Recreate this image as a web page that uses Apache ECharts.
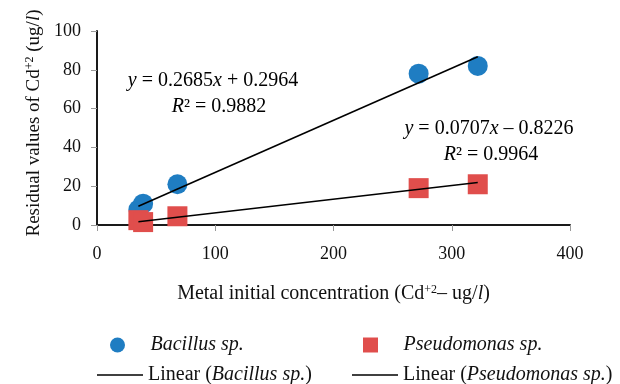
<!DOCTYPE html>
<html><head><meta charset="utf-8">
<script src="https://cdn.jsdelivr.net/npm/echarts@6/dist/echarts.min.js"></script>
<style>html,body{margin:0;padding:0;background:#fff}#c{width:620px;height:384px}</style>
</head><body><div id="c"></div>
<script>
// Data
var concentrations = [35, 39, 68, 272, 322];
var bacillusValues = [8, 11, 21, 78, 82];
var pseudomonasValues = [2.5, 1.5, 4.5, 19, 21];
// Regression coefficients as printed on the chart
var bacillusFit = {slope: 0.2685, intercept: 0.2964};
var pseudomonasFit = {slope: 0.0707, intercept: -0.8226};
var xTicks = [0, 100, 200, 300, 400];
var yTicks = [0, 20, 40, 60, 80, 100];

var FONT = '"Liberation Serif", "DejaVu Serif", serif';
function pairs(xs, ys){ return xs.map(function(x,i){ return [x, ys[i]]; }); }
function fitLine(xs, f){
  var lo = Math.min.apply(null, xs), hi = Math.max.apply(null, xs);
  return [[lo, f.slope*lo + f.intercept], [hi, f.slope*hi + f.intercept]];
}
function mkRich(sz){
  return {
    n: {fontFamily: FONT, fontSize: sz, color: '#111'},
    i: {fontFamily: FONT, fontSize: sz, fontStyle: 'italic', color: '#111'},
    s: {fontFamily: FONT, fontSize: Math.round(sz*0.62), color: '#111', verticalAlign: 'top', lineHeight: sz*0.7}
  };
}
var richX = mkRich(20), richY = mkRich(19), richLegend = mkRich(20), richAnn = mkRich(20);
function legendFmt(name){
  var m = name.match(/^Linear \((.*)\)$/);
  if (m) return '{n|Linear (}{i|' + m[1] + '}{n|)}';
  return '{i|' + name + '}';
}
function ann(x, y, text){
  return {type: 'text', x: x, y: y, z: 10,
    style: {text: text, rich: richAnn, align: 'center', verticalAlign: 'middle'}};
}
var LINE_ICON = 'path://M0,0L46,0L46,1.6L0,1.6Z';
function legendItem(left, top, name, icon, padLeft){
  return {left: left, top: top, orient: 'horizontal', padding: 0, itemWidth: 46, itemHeight: 15,
    data: [{name: name, icon: icon}], formatter: legendFmt,
    textStyle: {rich: richLegend, padding: [0, 0, 0, padLeft || 0]}};
}
var chart = echarts.init(document.getElementById('c'));
chart.setOption({
  animation: false,
  grid: {left: 97, right: 50, top: 31, bottom: 159},
  xAxis: {
    type: 'value', min: xTicks[0], max: xTicks[xTicks.length-1], interval: 100,
    splitLine: {show: false},
    axisLine: {lineStyle: {color: '#1a1a1a', width: 2}},
    axisTick: {show: true, length: 6, lineStyle: {color: '#999'}},
    axisLabel: {fontFamily: FONT, fontSize: 18, color: '#111', margin: 20},
    name: '{n|Metal initial concentration (Cd}{s|+2}{n|– ug/}{i|l}{n|)}',
    nameLocation: 'middle', nameGap: 59,
    nameTextStyle: {rich: richX}
  },
  yAxis: {
    type: 'value', min: yTicks[0], max: yTicks[yTicks.length-1], interval: 20,
    splitLine: {show: false},
    axisLine: {show: true, lineStyle: {color: '#1a1a1a', width: 2}},
    axisTick: {show: true, length: 6, lineStyle: {color: '#999'}},
    axisLabel: {fontFamily: FONT, fontSize: 18, color: '#111', margin: 16},
    name: '{n|Residual values of Cd}{s|+2}{n| (ug/}{i|l}{n|)}',
    nameLocation: 'middle', nameGap: 53,
    nameTextStyle: {rich: richY, padding: [0, 0, 0, 10]}
  },
  legend: [
    legendItem(110, 335, 'Bacillus sp.', 'circle', 5),
    legendItem(97, 365, 'Linear (Bacillus sp.)', LINE_ICON),
    legendItem(363, 335, 'Pseudomonas sp.', 'path://M0,0L10,0L10,10L0,10Z', 5),
    legendItem(352, 365, 'Linear (Pseudomonas sp.)', LINE_ICON)
  ],
  series: [
    {name: 'Bacillus sp.', type: 'scatter', symbol: 'circle', symbolSize: 20,
     itemStyle: {color: '#1f7dc2', opacity: 1}, data: pairs(concentrations, bacillusValues), z: 2},
    {name: 'Pseudomonas sp.', type: 'scatter', symbol: 'rect', symbolSize: 20,
     itemStyle: {color: '#e04e4c', opacity: 1}, data: pairs(concentrations, pseudomonasValues), z: 2},
    {name: 'Linear (Bacillus sp.)', type: 'line', symbol: 'none', z: 3,
     lineStyle: {color: '#000', width: 1.6}, itemStyle: {color: '#000'},
     data: fitLine(concentrations, bacillusFit)},
    {name: 'Linear (Pseudomonas sp.)', type: 'line', symbol: 'none', z: 3,
     lineStyle: {color: '#000', width: 1.6}, itemStyle: {color: '#000'},
     data: fitLine(concentrations, pseudomonasFit)}
  ],
  graphic: [
    ann(213, 81, '{i|y}{n| = 0.2685}{i|x}{n| + 0.2964}'),
    ann(219, 107, '{i|R}{n|² = 0.9882}'),
    ann(489, 129, '{i|y}{n| = 0.0707}{i|x}{n| – 0.8226}'),
    ann(491, 155, '{i|R}{n|² = 0.9964}')
  ]
});
</script></body></html>
